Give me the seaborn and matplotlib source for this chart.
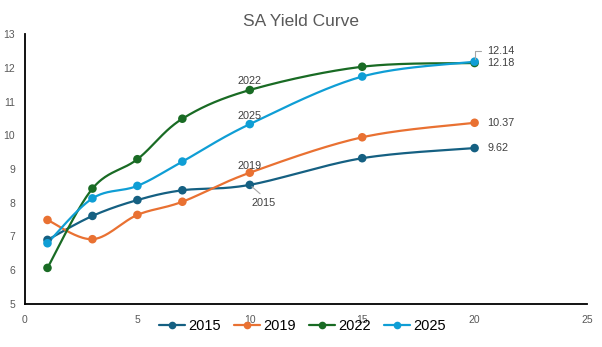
import numpy as np
import pandas as pd
import matplotlib
matplotlib.use("Agg")
import matplotlib.pyplot as plt
import seaborn as sns
from matplotlib.lines import Line2D

# ---- data ----
maturities = [1, 3, 5, 7, 10, 15, 20]
y2015 = [6.90, 7.61, 8.08, 8.37, 8.53, 9.32, 9.62]
y2019 = [7.49, 6.92, 7.64, 8.03, 8.89, 9.94, 10.37]
y2022 = [6.07, 8.42, 9.29, 10.49, 11.34, 12.03, 12.14]
y2025 = [6.80, 8.13, 8.50, 9.22, 10.33, 11.74, 12.18]
series_names = ["2015", "2019", "2022", "2025"]
colors = ["#156082", "#E97132", "#196B24", "#0F9ED5"]
title = "SA Yield Curve"

series = dict(zip(series_names, [y2015, y2019, y2022, y2025]))

sns.set_theme(style="white")
plt.rcParams["font.family"] = ["Liberation Sans", "DejaVu Sans"]


def smooth(xs, ys, n=40, sx=22.5, sy=33.75):
    P = np.column_stack([np.asarray(xs, float) * sx, np.asarray(ys, float) * sy])
    out = []
    t = np.linspace(0, 1, n)[:, None]
    for i in range(len(P) - 1):
        p0 = P[max(i - 1, 0)]
        p1 = P[i]
        p2 = P[i + 1]
        p3 = P[min(i + 2, len(P) - 1)]
        c1 = p1 + (p2 - p0) / 6
        c2 = p2 - (p3 - p1) / 6
        B = (1 - t) ** 3 * p1 + 3 * (1 - t) ** 2 * t * c1 + 3 * (1 - t) * t ** 2 * c2 + t ** 3 * p2
        out.append(B if i == 0 else B[1:])
    B = np.vstack(out)
    return B[:, 0] / sx, B[:, 1] / sy


line_rows = []
pt_rows = []
for name in series_names:
    sxv, syv = smooth(maturities, series[name])
    for k, (a, b) in enumerate(zip(sxv, syv)):
        line_rows.append({"series": name, "x": a, "y": b, "order": k})
    for a, b in zip(maturities, series[name]):
        pt_rows.append({"series": name, "x": a, "y": b})
lines_df = pd.DataFrame(line_rows)
pts_df = pd.DataFrame(pt_rows)
palette = dict(zip(series_names, colors))

fig = plt.figure(figsize=(6.02, 3.47), dpi=100)
ax = fig.add_axes([25 / 602, 1 - 304 / 347, (587 - 25) / 602, (304 - 34) / 347])

sns.lineplot(data=lines_df, x="x", y="y", hue="series", palette=palette,
             sort=False, estimator=None, units="series", linewidth=1.6,
             legend=False, ax=ax)
sns.scatterplot(data=pts_df, x="x", y="y", hue="series", palette=palette,
                s=38, edgecolor="none", legend=False, ax=ax, zorder=3)

ax.set_xlim(0, 25)
ax.set_ylim(5, 13)
ax.set_xticks([0, 5, 10, 15, 20, 25])
ax.set_yticks(range(5, 14))
ax.set_xlabel("")
ax.set_ylabel("")
for s in ["top", "right"]:
    ax.spines[s].set_visible(False)
for s in ["left", "bottom"]:
    ax.spines[s].set_color("black")
    ax.spines[s].set_linewidth(1.3)
ax.tick_params(axis="both", length=0, labelsize=7.5, labelcolor="#595959")
ax.tick_params(axis="y", pad=7)
ax.tick_params(axis="x", pad=8)

fig.text(0.5, 1 - 22 / 347, title, ha="center", va="center", fontsize=12.5, color="#595959")

lab_color = "#404040"
fs = 7.8
# labels at 10y
ax.annotate("2022", (10, y2022[4]), xytext=(0, 3), textcoords="offset points",
            ha="center", va="bottom", fontsize=fs, color=lab_color)
ax.annotate("2025", (10, y2025[4]), xytext=(0, 2), textcoords="offset points",
            ha="center", va="bottom", fontsize=fs, color=lab_color)
ax.annotate("2019", (10, y2019[4]), xytext=(0, 1), textcoords="offset points",
            ha="center", va="bottom", fontsize=fs, color=lab_color)
ax.annotate("2015", (10, y2015[4]), xytext=(10, -13), textcoords="offset points",
            ha="center", va="center", fontsize=fs, color=lab_color,
            arrowprops=dict(arrowstyle="-", color="#a6a6a6", lw=0.8,
                            relpos=(0.55, 1.0), shrinkA=1, shrinkB=2))
# labels at 20y
ax.annotate(f"{y2015[-1]:.2f}", (20, y2015[-1]), xytext=(9, 0), textcoords="offset points",
            ha="left", va="center", fontsize=fs, color=lab_color)
ax.annotate(f"{y2019[-1]:.2f}", (20, y2019[-1]), xytext=(9, 0), textcoords="offset points",
            ha="left", va="center", fontsize=fs, color=lab_color)
ax.annotate(f"{y2025[-1]:.2f}", (20, y2025[-1]), xytext=(9, -1), textcoords="offset points",
            ha="left", va="center", fontsize=fs, color=lab_color)
ax.annotate(f"{y2022[-1]:.2f}", (20, y2022[-1]), xytext=(9, 9), textcoords="offset points",
            ha="left", va="center", fontsize=fs, color=lab_color,
            arrowprops=dict(arrowstyle="-", color="#a6a6a6", lw=0.8,
                            connectionstyle="angle,angleA=0,angleB=90,rad=0",
                            shrinkA=2, shrinkB=3))

handles = [Line2D([0], [0], color=c, lw=1.6, marker="o", markersize=5.5,
                  markeredgewidth=0) for c in colors]
fig.legend(handles, series_names, loc="center", bbox_to_anchor=(0.502, 1 - 326 / 347),
           ncol=4, frameon=False, fontsize=10.5, handlelength=1.8, handletextpad=0.2,
           columnspacing=0.9, borderpad=0, labelcolor="black")

fig.savefig("out.png", dpi=100)
